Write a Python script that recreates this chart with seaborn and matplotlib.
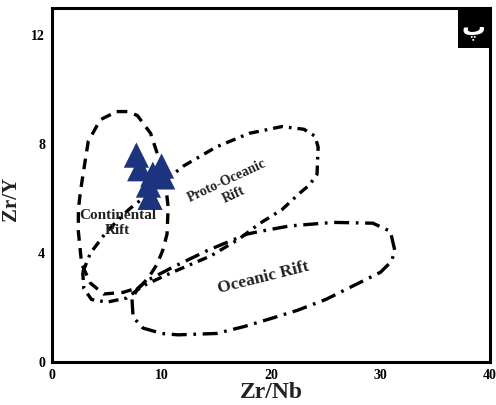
import matplotlib
matplotlib.use("Agg")
import matplotlib.pyplot as plt
import seaborn as sns
import pandas as pd
from matplotlib.patches import Rectangle

# sample points (Zr/Nb, Zr/Y)
zr_nb = [7.7, 8.0, 10.0, 10.1, 8.8, 8.95, 9.2]
zr_y = [7.6, 7.1, 7.2, 6.8, 6.5, 6.05, 6.9]

# field outlines
cont_x = [5.9, 7.0, 7.8, 9.0, 9.9, 10.4, 10.6, 10.5, 10.1, 9.6, 8.8, 8.0, 6.5, 4.7, 3.5, 2.7,
          2.4, 2.4, 2.6, 3.3, 4.4, 5.9]
cont_y = [9.2, 9.2, 9.05, 8.4, 7.3, 6.4, 5.7, 4.7, 4.1, 3.6, 3.1, 2.75, 2.56, 2.5, 2.9, 3.6,
          4.8, 5.6, 6.3, 8.1, 8.9, 9.2]

proto_x = [2.8, 3.5, 5.0, 7.0, 9.5, 12.0, 15.0, 18.0, 21.0, 23.0, 24.0, 24.3, 24.2, 23.5,
           22.6, 21.0, 19.0, 17.0, 14.5, 11.0, 8.3, 6.8, 5.0, 3.6, 2.9, 2.8]
proto_y = [3.3, 4.0, 4.8, 5.6, 6.4, 7.2, 7.9, 8.4, 8.65, 8.55, 8.3, 7.9, 6.9, 6.5,
           6.2, 5.6, 5.1, 4.5, 3.9, 3.3, 2.8, 2.35, 2.2, 2.3, 2.7, 3.3]

ocean_x = [7.3, 7.4, 8.3, 10.0, 11.5, 15.0, 17.5, 20.0, 22.4, 25.0, 27.0, 30.0, 31.0, 31.3,
           30.9, 29.3, 25.7, 21.7, 19.0, 17.8, 14.2, 11.1, 8.7, 7.8, 7.3]
ocean_y = [2.3, 1.65, 1.25, 1.05, 1.0, 1.05, 1.3, 1.6, 1.9, 2.3, 2.7, 3.3, 3.7, 4.1,
           4.8, 5.1, 5.13, 5.0, 4.8, 4.7, 4.1, 3.5, 3.0, 2.7, 2.3]

x_ticks = [0, 10, 20, 30, 40]
y_ticks = [0, 4, 8, 12]

sns.set_theme(style="white")
plt.rcParams['font.family'] = ['Liberation Serif', 'DejaVu Serif']

fig = plt.figure(figsize=(4.96, 4.05), dpi=100)
ax = fig.add_axes([0.105, 0.106, 0.883, 0.874])

ax.plot(cont_x, cont_y, color='black', lw=2.4, dashes=(3.2, 2.2))
ax.plot(proto_x, proto_y, color='black', lw=2.4, dashes=(3.0, 1.8, 0.8, 1.8))
ax.plot(ocean_x, ocean_y, color='black', lw=2.4, dashes=(4.5, 2.0, 0.8, 2.0))

pts = pd.DataFrame({'Zr/Nb': zr_nb, 'Zr/Y': zr_y})
sns.scatterplot(data=pts, x='Zr/Nb', y='Zr/Y', marker='^', s=330, color='#1c3480',
                edgecolor='none', ax=ax, zorder=3)

bold = dict(fontweight='bold', color='#222222')
ax.text(6.0, 5.1, 'Continental\nRift', ha='center', va='center', fontsize=11,
        linespacing=1.2, zorder=4, **bold)
ax.text(16.3, 6.4, 'Proto-Oceanic\nRift', ha='center', va='center', fontsize=10,
        rotation=25, linespacing=1.2, **bold)
ax.text(19.3, 3.1, 'Oceanic Rift', ha='center', va='center', fontsize=12.5,
        rotation=14, **bold)

# label box in the corner
ax.add_patch(Rectangle((0.927, 0.888), 0.073, 0.112, transform=ax.transAxes,
                       facecolor='black', edgecolor='none', zorder=5))
ax.text(0.963, 0.945, 'پ', transform=ax.transAxes, ha='center', va='center',
        color='white', fontsize=17, fontweight='bold', family=['DejaVu Sans'], zorder=6)

ax.set_xlim(0, 40)
ax.set_ylim(0, 13)
ax.set_xticks(x_ticks)
ax.set_yticks(y_ticks)
ax.set_xticklabels([str(t) for t in x_ticks], fontsize=10, fontweight='bold')
ax.set_yticklabels([str(t) for t in y_ticks], fontsize=10, fontweight='bold')
ax.tick_params(axis='both', direction='out', length=3, width=1.5, pad=2, colors='black')
ax.set_xlabel('Zr/Nb', fontsize=17, fontweight='bold', labelpad=0, color='#222222')
ax.set_ylabel('Zr/Y', fontsize=15, fontweight='bold', color='#222222')
ax.yaxis.set_label_coords(-0.07, 0.46)

for s in ax.spines.values():
    s.set_linewidth(2.2)
    s.set_color('black')

fig.savefig('out.png', dpi=100)
